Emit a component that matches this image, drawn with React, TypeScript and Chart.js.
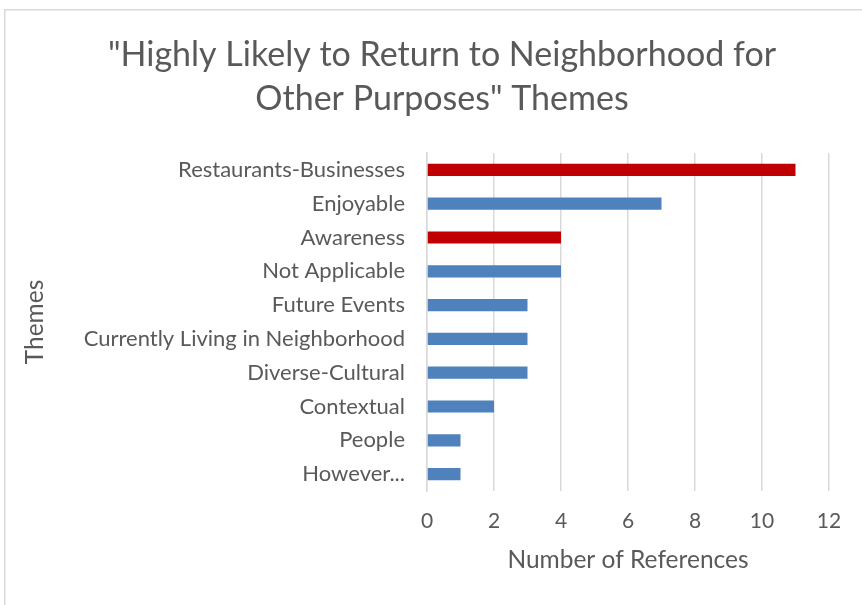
import React, { useEffect, useRef } from "react";
import { Chart, registerables } from "chart.js";

Chart.register(...registerables);

const titleLines = ['"Highly Likely to Return to Neighborhood for', 'Other Purposes" Themes'];
const categories = [
  "Restaurants-Businesses",
  "Enjoyable",
  "Awareness",
  "Not Applicable",
  "Future Events",
  "Currently Living in Neighborhood",
  "Diverse-Cultural",
  "Contextual",
  "People",
  "However...",
];
const references = [11, 7, 4, 4, 3, 3, 3, 2, 1, 1];
const highlighted = [true, false, true, false, false, false, false, false, false, false];
const xTicks = [0, 2, 4, 6, 8, 10, 12];

const RED = "#C00000";
const BLUE = "#4F81BD";
const TEXT = "#595959";
const GRID = "#D9D9D9";
const FONT = "Lato, 'Open Sans', sans-serif";

const framePlugin = {
  id: "frame",
  beforeDraw(chart: any) {
    const ctx = chart.ctx;
    ctx.save();
    ctx.fillStyle = "#ffffff";
    ctx.fillRect(0, 0, chart.width, chart.height);
    ctx.strokeStyle = GRID;
    ctx.lineWidth = 1.5;
    ctx.strokeRect(4.75, 9.75, chart.width + 20, chart.height + 20);
    ctx.restore();
  },
  afterDraw(chart: any) {
    const ctx = chart.ctx;
    ctx.save();
    ctx.fillStyle = TEXT;
    ctx.font = `normal 34px ${FONT}`;
    ctx.textAlign = "center";
    ctx.textBaseline = "middle";
    titleLines.forEach((line, i) => {
      ctx.fillText(line, 442, 55 + i * 44);
    });
    ctx.restore();
  },
};

export default function App() {
  const ref = useRef<HTMLCanvasElement | null>(null);
  useEffect(() => {
    if (!ref.current) return;
    const chart = new Chart(ref.current, {
      type: "bar",
      data: {
        labels: categories,
        datasets: [
          {
            data: references,
            backgroundColor: highlighted.map((h) => (h ? RED : BLUE)),
            barPercentage: 0.6,
            categoryPercentage: 0.6,
          },
        ],
      },
      plugins: [framePlugin],
      options: {
        indexAxis: "y",
        animation: false,
        responsive: false,
        layout: { padding: { left: 20, right: 33, top: 153, bottom: 30 } },
        plugins: {
          legend: { display: false },
          tooltip: { enabled: false },
          title: { display: false },
        },
        scales: {
          x: {
            min: 0,
            max: 12,
            afterBuildTicks(scale: any) {
              scale.ticks = xTicks.map((v) => ({ value: v }));
            },
            afterFit(scale: any) {
              scale.height = 605 - 491 - 30;
            },
            grid: { color: GRID, lineWidth: 1.5, drawTicks: false },
            border: { display: false },
            ticks: {
              color: TEXT,
              font: { family: FONT, size: 21 },
              padding: 18,
            },
            title: {
              display: true,
              text: "Number of References",
              color: TEXT,
              font: { family: FONT, size: 24.5 },
              padding: { top: 0, bottom: 0 },
            },
          },
          y: {
            afterFit(scale: any) {
              scale.width = 427 - 20;
            },
            grid: { display: false, drawTicks: false },
            border: { display: true, color: GRID, width: 1.5 },
            ticks: {
              color: TEXT,
              font: { family: FONT, size: 22 },
              padding: 22,
            },
            title: {
              display: true,
              text: "Themes",
              color: TEXT,
              font: { family: FONT, size: 24.5 },
              padding: { top: 0, bottom: 0 },
            },
          },
        },
      },
    } as any);
    return () => chart.destroy();
  }, []);
  return (
    <div style={{ position: "fixed", left: 0, top: 0, width: 862, height: 605 }}>
      <canvas ref={ref} width={862} height={605} style={{ display: "block" }} />
    </div>
  );
}
